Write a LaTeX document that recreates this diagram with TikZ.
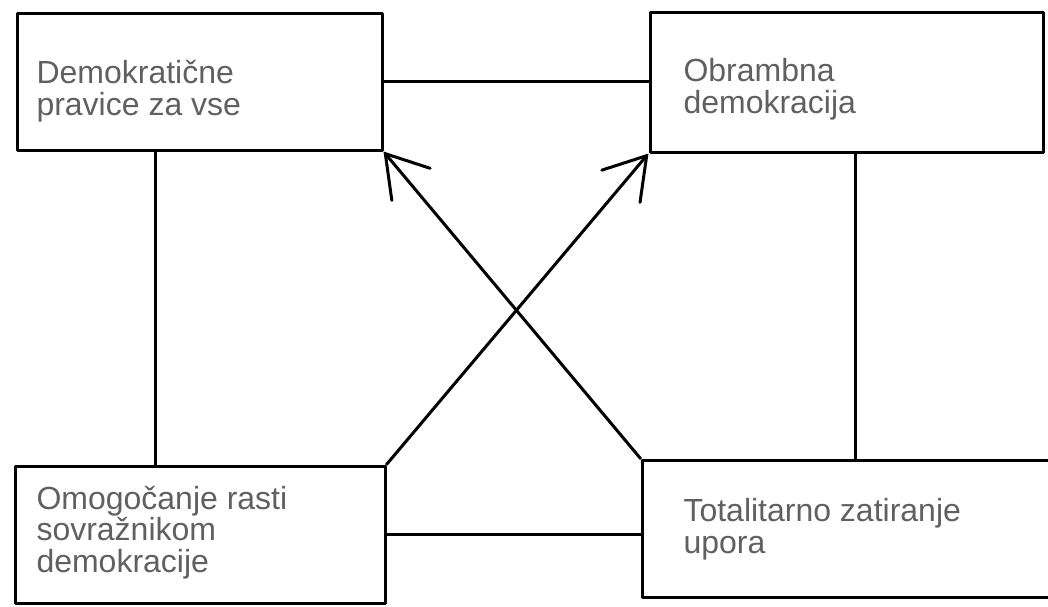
\documentclass[tikz,border=0pt]{standalone}
\usepackage{fontspec}
\setmainfont{Liberation Sans}
\usetikzlibrary{arrows.meta}
\definecolor{txtgray}{HTML}{606060}
\begin{document}
\begin{tikzpicture}[x=1pt,y=-1pt,line width=3pt,line join=round,line cap=round,
  box/.style={draw=black,rectangle,inner sep=0pt},
  lbl/.style={text=txtgray,font=\fontsize{32}{31.5}\selectfont,align=left,inner sep=0pt,anchor=base west},
  arr/.style={-{Straight Barb[length=40pt,width=50pt,line cap=round]}}]
\useasboundingbox (0,0) rectangle (1048,606);
\node[box,minimum width=365pt,minimum height=137pt] (tl) at (199.5,81.5) {};
\node[box,minimum width=393pt,minimum height=140pt] (tr) at (846.5,82) {};
\node[box,minimum width=370pt,minimum height=137pt] (bl) at (200,534.5) {};
\node[box,minimum width=418pt,minimum height=137pt] (br) at (851,528.5) {};
\node[lbl] (tlt) at (35,115) {Demokratične\\pravice za vse};
\node[lbl] (trt) at (682,113) {Obrambna\\demokracija};
\node[lbl] (blt) at (35,572) {Omogočanje rasti\\sovražnikom\\demokracije};
\node[lbl] (brt) at (682,553) {Totalitarno zatiranje\\upora};
\draw (tl.east) -- (tl.east -| tr.west);
\draw (bl.east) -- (bl.east -| br.west);
\draw ([xshift=140pt]tl.south west) -- ([xshift=140pt]tl.south west |- bl.north);
\draw ([xshift=207pt]tr.south west) -- ([xshift=207pt]tr.south west |- br.north);
\draw[arr] (br.north west) -- (tl.south east);
\draw[arr] (bl.north east) -- (tr.south west);
\end{tikzpicture}
\end{document}
